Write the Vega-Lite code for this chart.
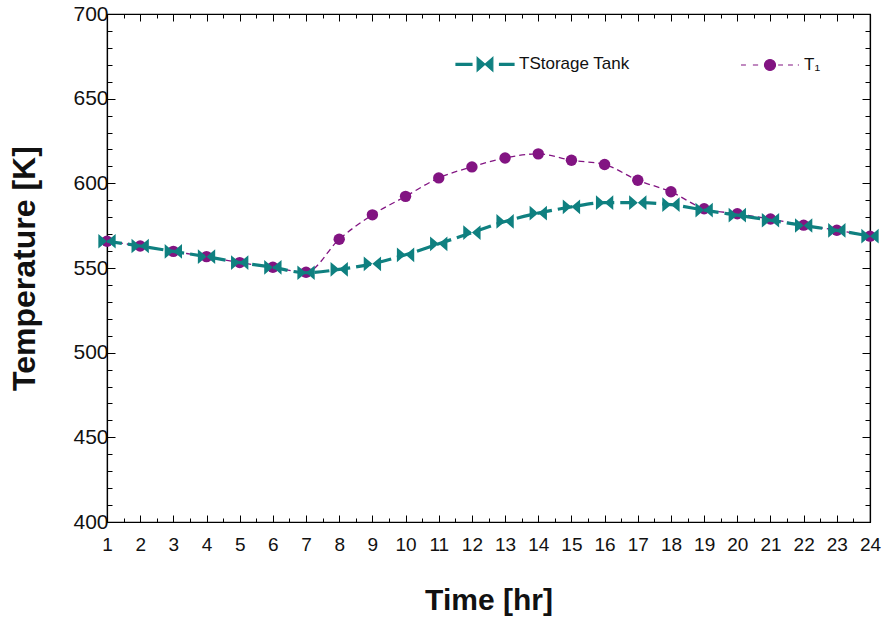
{
  "$schema": "https://vega.github.io/schema/vega-lite/v6.json",
  "width": 763,
  "height": 508,
  "autosize": {"type": "none"},
  "padding": {"left": 107, "top": 14, "right": 17, "bottom": 98},
  "background": "white",
  "config": {
    "view": {"stroke": "#000", "strokeWidth": 1.2},
    "font": "Liberation Sans",
    "axis": {"grid": false, "domainColor": "#000", "tickColor": "#000", "labelColor": "#111", "titleColor": "#111", "labelFont": "Liberation Sans", "titleFont": "Liberation Sans", "domainWidth": 1.2, "tickWidth": 1}
  },
  "datasets": {
    "temps": [
      {"hour": 1, "series": "Storage Tank", "temp": 565.8},
      {"hour": 2, "series": "Storage Tank", "temp": 563},
      {"hour": 3, "series": "Storage Tank", "temp": 559.8},
      {"hour": 4, "series": "Storage Tank", "temp": 556.7},
      {"hour": 5, "series": "Storage Tank", "temp": 553.2},
      {"hour": 6, "series": "Storage Tank", "temp": 550.4},
      {"hour": 7, "series": "Storage Tank", "temp": 547.2},
      {"hour": 8, "series": "Storage Tank", "temp": 549.2},
      {"hour": 9, "series": "Storage Tank", "temp": 552.5},
      {"hour": 10, "series": "Storage Tank", "temp": 557.8},
      {"hour": 11, "series": "Storage Tank", "temp": 564.3},
      {"hour": 12, "series": "Storage Tank", "temp": 570.9},
      {"hour": 13, "series": "Storage Tank", "temp": 577.5},
      {"hour": 14, "series": "Storage Tank", "temp": 582.4},
      {"hour": 15, "series": "Storage Tank", "temp": 586.1},
      {"hour": 16, "series": "Storage Tank", "temp": 588.6},
      {"hour": 17, "series": "Storage Tank", "temp": 588.6},
      {"hour": 18, "series": "Storage Tank", "temp": 587.4},
      {"hour": 19, "series": "Storage Tank", "temp": 584.2},
      {"hour": 20, "series": "Storage Tank", "temp": 581.2},
      {"hour": 21, "series": "Storage Tank", "temp": 578.2},
      {"hour": 22, "series": "Storage Tank", "temp": 575.1},
      {"hour": 23, "series": "Storage Tank", "temp": 572.2},
      {"hour": 24, "series": "Storage Tank", "temp": 568.8},
      {"hour": 1, "series": "T1", "temp": 565.8},
      {"hour": 2, "series": "T1", "temp": 563},
      {"hour": 3, "series": "T1", "temp": 559.8},
      {"hour": 4, "series": "T1", "temp": 556.7},
      {"hour": 5, "series": "T1", "temp": 553.2},
      {"hour": 6, "series": "T1", "temp": 550.4},
      {"hour": 7, "series": "T1", "temp": 547.5},
      {"hour": 8, "series": "T1", "temp": 567},
      {"hour": 9, "series": "T1", "temp": 581.4},
      {"hour": 10, "series": "T1", "temp": 592.3},
      {"hour": 11, "series": "T1", "temp": 603.2},
      {"hour": 12, "series": "T1", "temp": 609.7},
      {"hour": 13, "series": "T1", "temp": 615},
      {"hour": 14, "series": "T1", "temp": 617.4},
      {"hour": 15, "series": "T1", "temp": 613.6},
      {"hour": 16, "series": "T1", "temp": 611.1},
      {"hour": 17, "series": "T1", "temp": 601.8},
      {"hour": 18, "series": "T1", "temp": 595},
      {"hour": 19, "series": "T1", "temp": 585},
      {"hour": 20, "series": "T1", "temp": 582},
      {"hour": 21, "series": "T1", "temp": 578.9},
      {"hour": 22, "series": "T1", "temp": 575.3},
      {"hour": 23, "series": "T1", "temp": 572.3},
      {"hour": 24, "series": "T1", "temp": 568.8}
    ]
  },
  "data": {"name": "temps"},
  "resolve": {"axis": {"x": "independent", "y": "independent"}},
  "layer": [
    {
      "transform": [{"filter": "datum.series === 'T1'"}],
      "mark": {"type": "line", "interpolate": "monotone", "strokeWidth": 1.3, "strokeDash": [6, 4]},
      "encoding": {
        "x": {"field": "hour", "type": "quantitative", "scale": {"domain": [1, 24], "nice": false, "zero": false},
          "axis": {"orient": "bottom", "values": [1,2,3,4,5,6,7,8,9,10,11,12,13,14,15,16,17,18,19,20,21,22,23,24], "tickSize": -7, "labelFontSize": 19, "labelPadding": 20, "labelFlush": false, "labelOverlap": false, "title": "Time [hr]", "titleFontSize": 30, "titleFontWeight": "bold", "titlePadding": 31}},
        "y": {"field": "temp", "type": "quantitative", "scale": {"domain": [400, 700], "nice": false, "zero": false},
          "axis": {"orient": "left", "values": [400, 450, 500, 550, 600, 650, 700], "tickSize": -8, "labelFontSize": 21, "labelPadding": 7, "labelFlush": false, "labelOverlap": false, "title": "Temperature [K]", "titleFontSize": 32, "titleFontWeight": "bold", "titlePadding": 31}},
        "color": {"field": "series", "type": "nominal",
          "scale": {"domain": ["Storage Tank", "T1"], "range": ["#0f8080", "#821482"]},
          "legend": {
            "orient": "none", "legendX": 348, "legendY": 20, "direction": "horizontal", "title": null,
            "padding": 0, "symbolSize": 3364, "labelFontSize": 17, "labelColor": "#111", "labelOffset": 4, "columnPadding": 108,
            "labelExpr": "datum.value === 'T1' ? 'T₁' : 'TStorage Tank'",
            "encode": {
              "symbols": {
                "update": {
                  "shape": {"signal": "datum.value === 'T1' ? 'M-1,0 L-0.83,0 M-0.59,0 L-0.41,0 M-0.19,0 A0.19,0.19 0 1,0 0.19,0 A0.19,0.19 0 1,0 -0.19,0 Z M0.28,0 L0.45,0 M0.62,0 L0.79,0 M0.96,0 L1,0' : 'M-1,-0.035 L-0.45,-0.035 L-0.45,0.035 L-1,0.035 Z M-0.27,-0.24 L0,0 L-0.27,0.24 Z M0.27,-0.24 L0,0 L0.27,0.24 Z M0.5,-0.035 L1,-0.035 L1,0.035 L0.5,0.035 Z'"},
                  "size": {"value": 3364},
                  "fill": {"signal": "datum.value === 'T1' ? '#821482' : '#0f8080'"},
                  "stroke": {"signal": "datum.value === 'T1' ? '#821482' : '#0f8080'"},
                  "strokeWidth": {"value": 1.2},
                  "strokeDash": {"value": []},
                  "opacity": {"value": 1},
                  "fillOpacity": {"value": 1}
                }
              }
            }
          }}
      }
    },
    {
      "transform": [{"filter": "datum.series === 'T1'"}],
      "mark": {"type": "point", "shape": "circle", "filled": true, "size": 130, "opacity": 1},
      "encoding": {
        "x": {"field": "hour", "type": "quantitative",
          "axis": {"orient": "bottom", "values": [1.5,2.5,3.5,4.5,5.5,6.5,7.5,8.5,9.5,10.5,11.5,12.5,13.5,14.5,15.5,16.5,17.5,18.5,19.5,20.5,21.5,22.5,23.5], "tickSize": -4, "labels": false, "domain": false, "title": null}},
        "y": {"field": "temp", "type": "quantitative",
          "axis": {"orient": "left", "values": [410,420,430,440,460,470,480,490,510,520,530,540,560,570,580,590,610,620,630,640,660,670,680,690], "tickSize": -5, "labels": false, "domain": false, "title": null}},
        "color": {"field": "series", "type": "nominal"}
      }
    },
    {
      "transform": [{"filter": "datum.series === 'Storage Tank'"}],
      "mark": {"type": "line", "interpolate": "monotone", "strokeWidth": 3.2, "strokeDash": [15, 6]},
      "encoding": {
        "x": {"field": "hour", "type": "quantitative",
          "axis": {"orient": "top", "values": [1,2,3,4,5,6,7,8,9,10,11,12,13,14,15,16,17,18,19,20,21,22,23,24], "tickSize": -7, "labels": false, "title": null}},
        "y": {"field": "temp", "type": "quantitative",
          "axis": {"orient": "right", "values": [400, 450, 500, 550, 600, 650, 700], "tickSize": -8, "labels": false, "title": null}},
        "color": {"field": "series", "type": "nominal"}
      }
    },
    {
      "transform": [{"filter": "datum.series === 'Storage Tank'"}],
      "mark": {"type": "point", "shape": "M-1,-0.85 L0,0 L-1,0.85 Z M1,-0.85 L0,0 L1,0.85 Z", "filled": true, "size": 300, "opacity": 1},
      "encoding": {
        "x": {"field": "hour", "type": "quantitative",
          "axis": {"orient": "top", "values": [1.5,2.5,3.5,4.5,5.5,6.5,7.5,8.5,9.5,10.5,11.5,12.5,13.5,14.5,15.5,16.5,17.5,18.5,19.5,20.5,21.5,22.5,23.5], "tickSize": -4, "labels": false, "domain": false, "title": null}},
        "y": {"field": "temp", "type": "quantitative",
          "axis": {"orient": "right", "values": [410,420,430,440,460,470,480,490,510,520,530,540,560,570,580,590,610,620,630,640,660,670,680,690], "tickSize": -5, "labels": false, "domain": false, "title": null}},
        "color": {"field": "series", "type": "nominal"}
      }
    }
  ]
}
